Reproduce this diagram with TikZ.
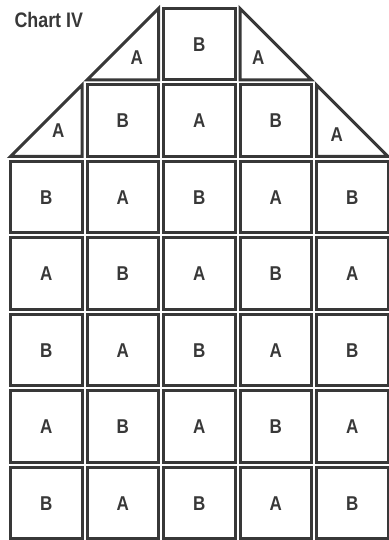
\documentclass[tikz,border=0pt]{standalone}
\usepackage{fontspec}
\setmainfont{Liberation Sans}
\newfontfamily\chartfont[FakeStretch=0.85]{Liberation Sans}
\usetikzlibrary{positioning}

\definecolor{tileline}{HTML}{383838}

\tikzset{
  letter/.style={font=\chartfont\bfseries\fontsize{20}{22}\selectfont,text=tileline,inner sep=0pt},
  tile/.style={rectangle,draw=tileline,line width=3pt,minimum size=71.5pt,inner sep=0pt,letter},
  halftile/.style={tile,draw=none},
  wedge/.style={draw=tileline,line width=3pt,line join=miter}
}

\begin{document}
\begin{tikzpicture}[node distance=2pt]
\useasboundingbox (0,0) rectangle (388pt,540pt);

\node (title) [anchor=base west,font=\chartfont\bfseries\fontsize{21}{24}\selectfont,text=tileline] at (11pt,512pt) {Chart IV};

% full rows
\node (r2c0) [tile] at (46.25pt,342.75pt) {B};
\node (r2c1) [tile,right=of r2c0] {A};
\node (r2c2) [tile,right=of r2c1] {B};
\node (r2c3) [tile,right=of r2c2] {A};
\node (r2c4) [tile,right=of r2c3] {B};

\node (r3c0) [tile,below=of r2c0] {A};
\node (r3c1) [tile,right=of r3c0] {B};
\node (r3c2) [tile,right=of r3c1] {A};
\node (r3c3) [tile,right=of r3c2] {B};
\node (r3c4) [tile,right=of r3c3] {A};

\node (r4c0) [tile,below=of r3c0] {B};
\node (r4c1) [tile,right=of r4c0] {A};
\node (r4c2) [tile,right=of r4c1] {B};
\node (r4c3) [tile,right=of r4c2] {A};
\node (r4c4) [tile,right=of r4c3] {B};

\node (r5c0) [tile,below=of r4c0] {A};
\node (r5c1) [tile,right=of r5c0] {B};
\node (r5c2) [tile,right=of r5c1] {A};
\node (r5c3) [tile,right=of r5c2] {B};
\node (r5c4) [tile,right=of r5c3] {A};

\node (r6c0) [tile,below=of r5c0] {B};
\node (r6c1) [tile,right=of r6c0] {A};
\node (r6c2) [tile,right=of r6c1] {B};
\node (r6c3) [tile,right=of r6c2] {A};
\node (r6c4) [tile,right=of r6c3] {B};

% roof rows
\node (r1c1) [tile,above=of r2c1] {B};
\node (r1c2) [tile,above=of r2c2] {A};
\node (r1c3) [tile,above=of r2c3] {B};
\node (r0c2) [tile,above=of r1c2] {B};

\node (r1c0) [halftile,left=of r1c1] {};
\node (r1c4) [halftile,right=of r1c3] {};
\node (r0c1) [halftile,left=of r0c2] {};
\node (r0c3) [halftile,right=of r0c2] {};

% half tiles
\draw[wedge] ([shift={(1.5pt,1.5pt)}]r1c0.south west) -- ([shift={(-1.5pt,-1.5pt)}]r1c0.north east) -- ([shift={(-1.5pt,1.5pt)}]r1c0.south east) -- cycle;
\draw[wedge] ([shift={(1.5pt,1.5pt)}]r0c1.south west) -- ([shift={(-1.5pt,-1.5pt)}]r0c1.north east) -- ([shift={(-1.5pt,1.5pt)}]r0c1.south east) -- cycle;
\draw[wedge] ([shift={(1.5pt,-1.5pt)}]r0c3.north west) -- ([shift={(-1.5pt,1.5pt)}]r0c3.south east) -- ([shift={(1.5pt,1.5pt)}]r0c3.south west) -- cycle;
\draw[wedge] ([shift={(1.5pt,-1.5pt)}]r1c4.north west) -- ([shift={(-1.5pt,1.5pt)}]r1c4.south east) -- ([shift={(1.5pt,1.5pt)}]r1c4.south west) -- cycle;

\node (a0c1) [letter] at ([shift={(14pt,-13pt)}]r0c1.center) {A};
\node (a0c3) [letter] at ([shift={(-17.5pt,-13pt)}]r0c3.center) {A};
\node (a1c0) [letter] at ([shift={(12pt,-10pt)}]r1c0.center) {A};
\node (a1c4) [letter] at ([shift={(-15.5pt,-14pt)}]r1c4.center) {A};

\end{tikzpicture}
\end{document}
